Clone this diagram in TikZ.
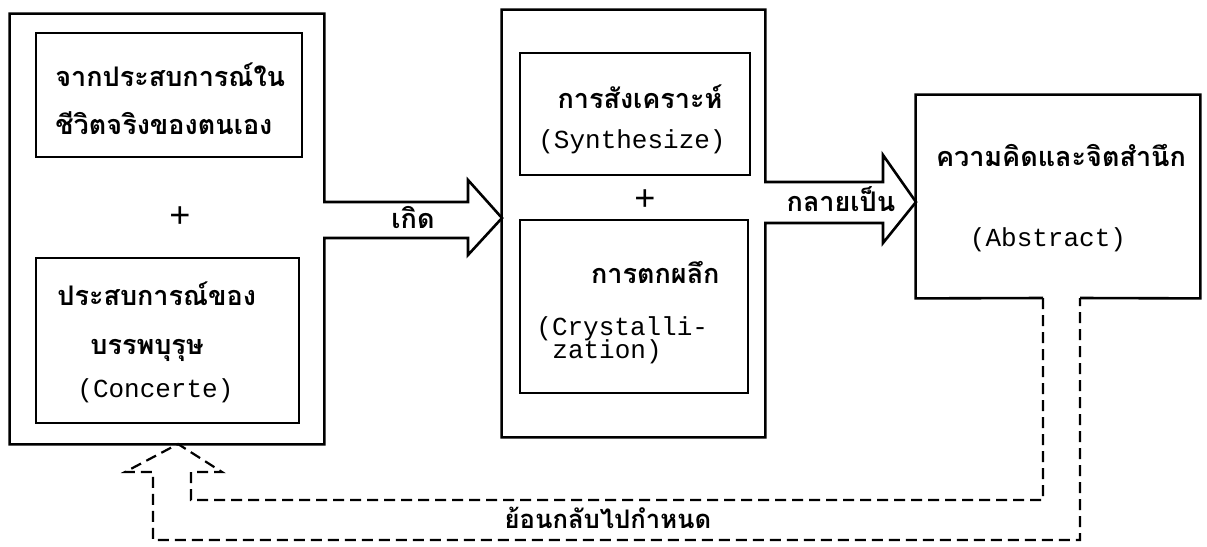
\documentclass[tikz,border=0pt]{standalone}
\usepackage{fontspec}
\setmonofont{Liberation Mono}
\newfontfamily\thaifont[Script=Thai]{Loma}
\usetikzlibrary{calc}
\begin{document}
\begin{tikzpicture}[x=0.5pt,y=-0.5pt,
  box/.style={draw, line width=1.3pt, inner sep=0pt, rectangle},
  ghost/.style={inner sep=0pt, rectangle},
  th/.style={font=\thaifont\bfseries\fontsize{13.5}{16}\selectfont, inner sep=0pt},
  ths/.style={font=\thaifont\bfseries\fontsize{12.8}{15}\selectfont, inner sep=0pt},
  en/.style={font=\ttfamily\fontsize{13}{15}\selectfont, inner sep=0pt},
  plus/.style={font=\ttfamily\fontsize{18}{20}\selectfont, inner sep=0pt},
  solidline/.style={line width=1.3pt, line join=miter},
  fb/.style={dash pattern=on 5.5pt off 3pt, line width=1.1pt}]
\useasboundingbox (0,0) rectangle (1207,547);
% outer frames (invisible nodes, outlines drawn below)
\node[ghost, minimum width=157pt, minimum height=215pt] (L) at (167,229) {};
\node[ghost, minimum width=131.5pt, minimum height=213.5pt] (M) at (633.5,223.5) {};
\node[ghost, minimum width=142pt, minimum height=101.5pt] (R) at (1058,196.5) {};
% inner boxes
\node[box, minimum width=133pt, minimum height=62pt] (L1) at (169,95) {};
\node[box, minimum width=131.5pt, minimum height=82.5pt] (L2) at (167.5,340.5) {};
\node[box, minimum width=115pt, minimum height=61pt] (M1) at (635,114) {};
\node[box, minimum width=114pt, minimum height=86.5pt] (M2) at (634,306.5) {};
% arrow geometry
\coordinate (a1t) at (468,202); \coordinate (a1b) at (468,238);
\coordinate (a1u) at (468,180); \coordinate (a1d) at (468,255);
\coordinate (a1p) at (502,218);
\coordinate (a2t) at (883,182); \coordinate (a2b) at (883,223);
\coordinate (a2u) at (883,155); \coordinate (a2d) at (883,243);
\coordinate (a2p) at (916,202);
% left frame with arrow
\draw[solidline] (L.east |- a1b) -- (L.south east) -- (L.south west) -- (L.north west)
  -- (L.north east) -- (L.east |- a1t) -- (a1t) -- (a1u) -- (a1p) -- (a1d) -- (a1b) -- cycle;
% middle frame with arrow
\draw[solidline] (M.east |- a2b) -- (M.south east) -- (M.south west) -- (M.north west)
  -- (M.north east) -- (M.east |- a2t) -- (a2t) -- (a2u) -- (a2p) -- (a2d) -- (a2b) -- cycle;
% right frame with opening
\coordinate (g1) at (1043,298); \coordinate (g2) at (1080,298);
\draw[solidline] (g1) -- (R.south west) -- (R.north west) -- (R.north east) -- (R.south east) -- (g2);
% feedback dashed block arrow
\coordinate (i1) at (1043,500); \coordinate (i2) at (191,500); \coordinate (i3) at (191,472);
\coordinate (b1) at (222,472); \coordinate (apex) at (178,444); \coordinate (b2) at (125,472);
\coordinate (o1) at (153,472); \coordinate (o2) at (153,540); \coordinate (o3) at (1080,540);
\draw[fb] (g1) -- (i1) -- (i2) -- (i3) -- (b1) -- (apex) -- (b2) -- (o1) -- (o2) -- (o3) -- (g2);
% texts
\node[th, anchor=base west] (t1) at (55,86) {จากประสบการณ์ใน};
\node[th, anchor=base west] (t2) at (55,134) {ชีวิตจริงของตนเอง};
\node[plus] (p1) at (180,217) {+};
\node[th, anchor=base west] (t3) at (57,305) {ประสบการณ์ของ};
\node[th, anchor=base west] (t4) at (90,354) {บรรพบุรุษ};
\node[en, anchor=base west] (t5) at (77,397) {(Concerte)};
\node[th, anchor=base] (k1) at (413,228) {เกิด};
\node[th, anchor=base] (t6) at (640,108) {การสังเคราะห์};
\node[en, anchor=base] (t7) at (632,148) {(Synthesize)};
\node[plus] (p2) at (645,200) {+};
\node[th, anchor=base east] (t8) at (720,283) {การตกผลึก};
\node[en, anchor=base west] (t9) at (536,335) {(Crystalli-};
\node[en, anchor=base west] (t10) at (552,358) {zation)};
\node[th, anchor=base] (k2) at (841,211) {กลายเป็น};
\node[th, anchor=base] (t11) at (1061,166) {ความคิดและจิตสำนึก};
\node[en, anchor=base] (t12) at (1048,246) {(Abstract)};
\node[ths, anchor=base] (k3) at (608,528) {ย้อนกลับไปกำหนด};
\end{tikzpicture}
\end{document}
